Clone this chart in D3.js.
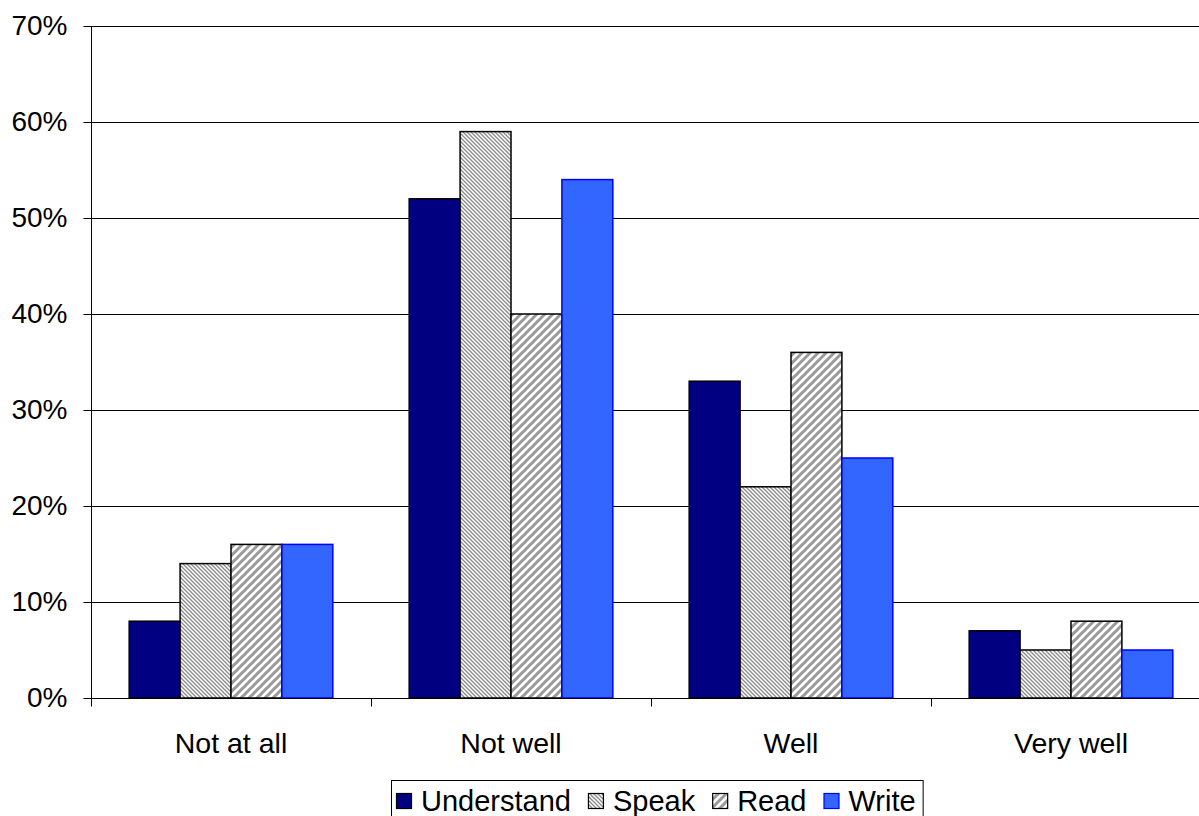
<!DOCTYPE html>
<html>
<head>
<meta charset="utf-8">
<script src="https://cdn.jsdelivr.net/npm/d3@7"></script>
<style>
  html, body { margin: 0; padding: 0; background: #fff; }
  svg { display: block; font-family: Arial, "Liberation Sans", sans-serif; }
</style>
</head>
<body>
<svg id="chart" width="1199" height="816"></svg>
<script>
// Survey answers: how well respondents handle the language
const categories = ["Not at all", "Not well", "Well", "Very well"];
const seriesNames = ["Understand", "Speak", "Read", "Write"];
const understand = [8, 52, 33, 7];
const speak = [14, 59, 22, 5];
const read = [16, 40, 36, 8];
const write = [16, 54, 25, 5];
const yTicks = [0, 10, 20, 30, 40, 50, 60, 70];

const seriesValues = [understand, speak, read, write];

const svg = d3.select("#chart");
const W = 1199, H = 816;
const plot = { left: 91, right: 1211, top: 26, bottom: 698 };

// Fill patterns for the hatched series
const defs = svg.append("defs");
const pSpeak = defs.append("pattern")
  .attr("id", "hatch-speak")
  .attr("patternUnits", "userSpaceOnUse")
  .attr("width", 4).attr("height", 4);
pSpeak.append("rect").attr("width", 4).attr("height", 4).attr("fill", "#fff");
pSpeak.append("path")
  .attr("d", "M0,0 L4,4 M-1,3 L1,5 M3,-1 L5,1")
  .attr("stroke", "#8a8a8a").attr("stroke-width", 1.3);

const pRead = defs.append("pattern")
  .attr("id", "hatch-read")
  .attr("patternUnits", "userSpaceOnUse")
  .attr("width", 8).attr("height", 8);
pRead.append("rect").attr("width", 8).attr("height", 8).attr("fill", "#fff");
pRead.append("path")
  .attr("d", "M0,8 L8,0 M-2,2 L2,-2 M6,10 L10,6")
  .attr("stroke", "#9a9a9a").attr("stroke-width", 3);

const fills = ["#000080", "url(#hatch-speak)", "url(#hatch-read)", "#3366ff"];
const strokes = ["#000000", "#000000", "#000000", "#0000ff"];

// Scales
const y = d3.scaleLinear().domain([0, 70]).range([plot.bottom, plot.top]);
const x0 = d3.scaleBand().domain(categories).range([plot.left, plot.right]).padding(0);
const bw = x0.bandwidth();
const gap = bw * 0.75 / 5.5;
const x1 = d3.scaleBand().domain(seriesNames).range([gap, bw - gap]).padding(0);

// Gridlines
svg.append("g")
  .selectAll("line")
  .data(yTicks.filter(d => d > 0))
  .join("line")
  .attr("x1", plot.left).attr("x2", W)
  .attr("y1", d => Math.round(y(d)) + 0.5)
  .attr("y2", d => Math.round(y(d)) + 0.5)
  .attr("stroke", "#000").attr("stroke-width", 1);

// Bars
const groups = svg.append("g")
  .selectAll("g")
  .data(categories)
  .join("g")
  .attr("transform", d => `translate(${x0(d)},0)`);

groups.selectAll("rect")
  .data((c, ci) => seriesNames.map((s, si) => ({ s, si, v: seriesValues[si][ci] })))
  .join("rect")
  .attr("x", d => x1(d.s))
  .attr("y", d => y(d.v))
  .attr("width", x1.bandwidth())
  .attr("height", d => y(0) - y(d.v))
  .attr("fill", d => fills[d.si])
  .attr("stroke", d => strokes[d.si])
  .attr("stroke-width", 1.5);

// Y axis
const yAxis = d3.axisLeft(y)
  .tickValues(yTicks)
  .tickFormat(d => d + "%")
  .tickSize(8)
  .tickPadding(16);
const gy = svg.append("g")
  .attr("transform", `translate(${plot.left + 0.5},0)`)
  .call(yAxis);
gy.select(".domain").attr("stroke", "#000").attr("d", `M0,${plot.top}V${plot.bottom}`);
gy.selectAll(".tick line").attr("stroke", "#000");
gy.selectAll(".tick text")
  .attr("font-size", 28)
  .attr("fill", "#000")
  .attr("font-family", "Arial, 'Liberation Sans', sans-serif");

// X axis baseline and category separators
const gx = svg.append("g").attr("transform", `translate(0,${plot.bottom + 0.5})`);
gx.append("line")
  .attr("x1", plot.left).attr("x2", W)
  .attr("y1", 0).attr("y2", 0)
  .attr("stroke", "#000");
gx.selectAll("line.sep")
  .data(categories)
  .join("line")
  .attr("class", "sep")
  .attr("x1", d => Math.round(x0(d)) + 0.5)
  .attr("x2", d => Math.round(x0(d)) + 0.5)
  .attr("y1", 0).attr("y2", 8)
  .attr("stroke", "#000");
gx.selectAll("text")
  .data(categories)
  .join("text")
  .attr("x", d => x0(d) + bw / 2)
  .attr("y", 54)
  .attr("text-anchor", "middle")
  .attr("font-size", 28.5)
  .attr("fill", "#000")
  .text(d => d);

// Legend
const legend = svg.append("g");
const legendBox = legend.append("rect")
  .attr("fill", "#fff").attr("stroke", "#000").attr("stroke-width", 1);
let cx = 396;
const swatch = 15;
seriesNames.forEach((name, i) => {
  legend.append("rect")
    .attr("x", cx + 0.5).attr("y", 793.5)
    .attr("width", swatch).attr("height", swatch)
    .attr("fill", fills[i]).attr("stroke", strokes[i]).attr("stroke-width", 1.2);
  cx += swatch + 10;
  const t = legend.append("text")
    .attr("x", cx).attr("y", 811)
    .attr("font-size", 29)
    .attr("fill", "#000")
    .text(name);
  cx += t.node().getComputedTextLength() + (i < seriesNames.length - 1 ? 17 : 7);
});
legendBox
  .attr("x", 391.5).attr("y", 780.5)
  .attr("width", cx - 391).attr("height", 40);
</script>
</body>
</html>
